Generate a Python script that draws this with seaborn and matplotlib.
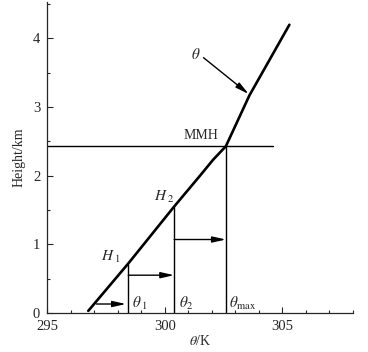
import matplotlib
matplotlib.use("Agg")
import matplotlib.pyplot as plt
import seaborn as sns
import pandas as pd

# potential temperature profile
theta = [296.75, 298.45, 300.4, 301.5, 302.05, 302.6, 303.6, 305.3]
height = [0.03, 0.72, 1.55, 2.0, 2.23, 2.43, 3.17, 4.2]

mmh = 2.43
mmh_end = 304.6
# vertical drop lines: theta at H1, H2 and MMH
drop_theta = [298.45, 300.4, 302.6]
drop_top = [0.72, 1.55, 2.43]
# horizontal arrows: (start, end, height)
arrow_start = [297.1, 298.45, 300.4]
arrow_end = [298.35, 300.4, 302.6]
arrow_y = [0.13, 0.55, 1.07]

sns.set_style("ticks")
plt.rcParams["font.family"] = ["Liberation Serif", "DejaVu Serif"]
plt.rcParams["mathtext.fontset"] = "stix"

df = pd.DataFrame({"theta": theta, "height": height})

fig = plt.figure(figsize=(3.68, 3.52), dpi=100)
ax = fig.add_axes([0.128, 0.111, 0.831, 0.883])

sns.lineplot(data=df, x="theta", y="height", sort=False, color="black", lw=1.9, ax=ax)

ax.plot([295, mmh_end], [mmh, mmh], color="black", lw=1)
for x, top in zip(drop_theta, drop_top):
    ax.plot([x, x], [0, top], color="black", lw=1)
head = "-|>,head_length=0.8,head_width=0.18"
for x0, x1, y in zip(arrow_start, arrow_end, arrow_y):
    ax.annotate("", xy=(x1, y), xytext=(x0, y),
                arrowprops=dict(arrowstyle=head, color="black", lw=1,
                                shrinkA=0, shrinkB=0))
ax.annotate("", xy=(303.57, 3.19), xytext=(301.65, 3.72),
            arrowprops=dict(arrowstyle=head, color="black", lw=1,
                            shrinkA=0, shrinkB=0))

fs = 11
ax.text(301.3, 3.77, r"$\theta$", fontsize=fs, ha="center", va="center")
ax.text(301.55, 2.58, "MMH", fontsize=10, ha="center", va="center")
ax.text(297.7, 0.82, r"$H_{\ 1}$", fontsize=fs, ha="center", va="center")
ax.text(300.0, 1.69, r"$H_{\ 2}$", fontsize=fs, ha="center", va="center")
ax.text(298.95, 0.14, r"$\theta_{\ 1}$", fontsize=fs, ha="center", va="center")
ax.text(300.9, 0.14, r"$\theta_2$", fontsize=fs, ha="center", va="center")
ax.text(303.3, 0.14, r"$\theta_{\rm max}$", fontsize=fs, ha="center", va="center")

ax.set_xlim(295, 308)
ax.set_ylim(0, 4.53)
ax.set_xticks([295, 300, 305])
ax.set_xticks(range(295, 309), minor=True)
ax.set_yticks([0, 1, 2, 3, 4])
ax.set_yticks([0.5, 1.5, 2.5, 3.5, 4.5], minor=True)
ax.tick_params(direction="in", labelsize=10.5, length=4, width=0.8)
ax.tick_params(axis="x", pad=5)
ax.tick_params(axis="y", pad=5)
ax.tick_params(which="minor", direction="in", length=2.5, width=0.8)
ax.set_xlabel(r"$\theta$/K", fontsize=10, labelpad=1)
ax.set_ylabel("Height/km", fontsize=10, labelpad=5)
sns.despine(ax=ax)
for s in ax.spines.values():
    s.set_linewidth(0.9)

fig.savefig("out.png", dpi=100)
